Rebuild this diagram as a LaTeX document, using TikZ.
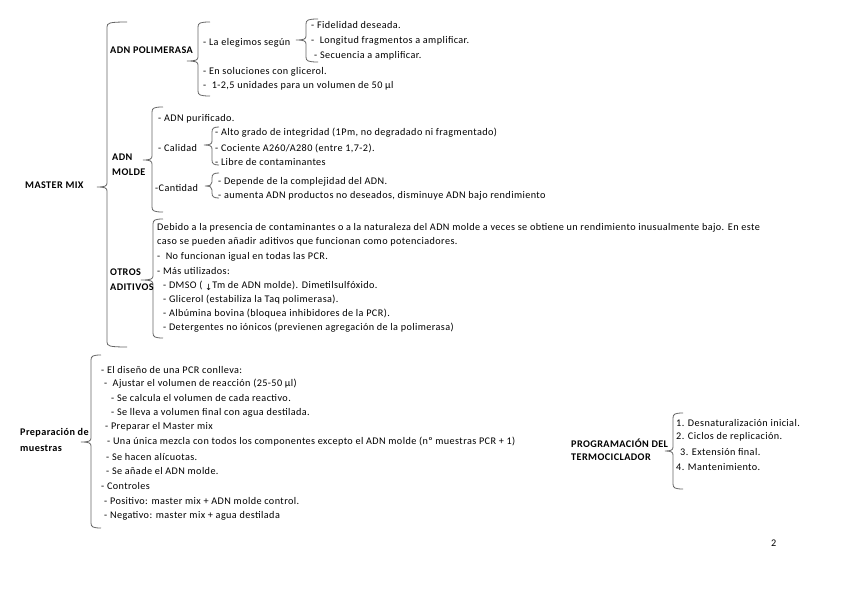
\documentclass[tikz,border=0pt]{standalone}
\usepackage{fontspec}
\setmainfont{Carlito}[LetterSpace=4.0]
\newfontfamily\symfont{DejaVu Sans}
\begin{document}
\begin{tikzpicture}[x=1pt,y=-1pt,
  txt/.style={anchor=west,inner sep=0pt,text=black,font=\fontsize{10.2}{12}\selectfont},
  hd/.style={txt,font=\fontsize{10.2}{12}\selectfont\bfseries},
  bracepath/.style={draw=black!60,line width=0.8pt}]
\useasboundingbox[fill=white] (0,0) rectangle (848,599);
% #1 x, #2 top, #3 bottom, #4 tip y, #5 tip x, #6 curl x
\newcommand{\mybrace}[6]{%
  \path[bracepath] (#6,#2) .. controls (#1+2,#2) and (#1,#2+1) .. (#1,#2+5)
    -- (#1,#4-4) .. controls (#1,#4-1) and (#1-2,#4) .. (#5,#4)
    .. controls (#1-2,#4) and (#1,#4+1) .. (#1,#4+4)
    -- (#1,#3-5) .. controls (#1,#3-1) and (#1+2,#3) .. (#6,#3);}
% braces
\mybrace{107}{22}{347}{187}{97}{127}
\mybrace{198}{22}{96}{61}{187}{210}
\mybrace{306}{19}{62}{40}{296}{318}
\mybrace{152}{107}{212}{160}{143}{163}
\mybrace{212}{127}{165}{145}{204}{219}
\mybrace{212}{173}{198}{186}{205}{219}
\mybrace{153}{219}{338}{280}{141}{163}
\mybrace{91}{355}{528}{442}{81}{101}
\mybrace{673}{413}{489}{451}{665}{683}
% master mix
\node[hd] (mm) at (25,185) {MASTER MIX};
\node[hd] (pol) at (110,50) {ADN POLIMERASA};
\node[txt] (eleg) at (203,43) {- La elegimos según};
\node[txt] (fid) at (311,25) {- Fidelidad deseada.};
\node[txt] (lon) at (311,41) {-~ Longitud fragmentos a amplificar.};
\node[txt] (sec) at (314,56) {- Secuencia a amplificar.};
\node[txt] (glic) at (203,72) {- En soluciones con glicerol.};
\node[txt] (unid) at (203,86) {-~ 1-2,5 unidades para un volumen de 50 µl};
\node[hd] (mol1) at (112,157) {ADN};
\node[hd] (mol2) at (112,172) {MOLDE};
\node[txt] (pur) at (158,119) {- ADN purificado.};
\node[txt] (cal) at (158,148) {- Calidad};
\node[txt] (alto) at (215,133) {- Alto grado de integridad (1Pm, no degradado ni fragmentado)};
\node[txt] (coc) at (215,148) {- Cociente A260/A280 (entre 1,7-2).};
\node[txt] (lib) at (215,162) {- Libre de contaminantes};
\node[txt] (cant) at (155,188) {-Cantidad};
\node[txt] (dep) at (218,182) {- Depende de la complejidad del ADN.};
\node[txt] (aum) at (218,196) {- aumenta ADN productos no deseados, disminuye ADN bajo rendimiento};
\node[hd] (ot1) at (110,272) {OTROS};
\node[hd] (ot2) at (110,287) {ADITIVOS};
\node[txt] (deb1) at (157,228) {Debido a la presencia de contaminantes o a la naturaleza del ADN molde a veces se obtiene un rendimiento inusualmente bajo. En este};
\node[txt] (deb2) at (157,242) {caso se pueden añadir aditivos que funcionan como potenciadores.};
\node[txt] (nof) at (157,257) {-~ No funcionan igual en todas las PCR.};
\node[txt] (mas) at (157,271) {- Más utilizados:};
\node[txt] (dmso) at (163,286) {- DMSO (~{\symfont\fontsize{8.5}{8.5}\selectfont\raisebox{-1.5pt}{↓}}Tm de ADN molde). Dimetilsulfóxido.};
\node[txt] (glc) at (163,300) {- Glicerol (estabiliza la Taq polimerasa).};
\node[txt] (alb) at (163,314) {- Albúmina bovina (bloquea inhibidores de la PCR).};
\node[txt] (det) at (163,328) {- Detergentes no iónicos (previenen agregación de la polimerasa)};
% preparacion
\node[hd] (prep1) at (20,433) {Preparación de};
\node[hd] (prep2) at (20,448) {muestras};
\node[txt] (p1) at (101,370) {- El diseño de una PCR conlleva:};
\node[txt] (p2) at (104,384) {-~ Ajustar el volumen de reacción (25-50 µl)};
\node[txt] (p3) at (111,398) {- Se calcula el volumen de cada reactivo.};
\node[txt] (p4) at (111,413) {- Se lleva a volumen final con agua destilada.};
\node[txt] (p5) at (105,427) {- Preparar el Master mix};
\node[txt] (p6) at (107,442) {- Una única mezcla con todos los componentes excepto el ADN molde (nº muestras PCR + 1)};
\node[txt] (p7) at (106,457) {- Se hacen alícuotas.};
\node[txt] (p8) at (106,471) {- Se añade el ADN molde.};
\node[txt] (p9) at (101,486) {- Controles};
\node[txt] (p10) at (104,501) {- Positivo: master mix + ADN molde control.};
\node[txt] (p11) at (104,516) {- Negativo: master mix + agua destilada};
% termociclador
\node[hd] (prog1) at (571,443) {PROGRAMACIÓN DEL};
\node[hd] (prog2) at (571,457) {TERMOCICLADOR};
\node[txt] (t1) at (676,423) {1. Desnaturalización inicial.};
\node[txt] (t2) at (676,437) {2. Ciclos de replicación.};
\node[txt] (t3) at (680,452) {3. Extensión final.};
\node[txt] (t4) at (676,467) {4. Mantenimiento.};
\node[txt] (pg) at (771,543) {2};
\end{tikzpicture}
\end{document}
